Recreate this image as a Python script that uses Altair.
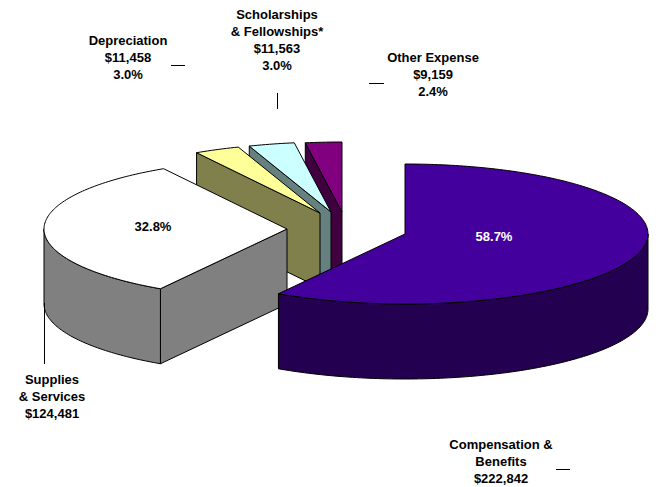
import numpy as np
import pandas as pd
import altair as alt

# Slice values (dollars), in clockwise order from 12 o'clock
names = ["Compensation", "Supplies", "Depreciation", "Scholarships", "Other"]
values = [222842, 124481, 11458, 11563, 9159]

# Exploded apex of each slice, in the picture's pixels
apex_x = [405, 287, 320, 331, 342]
apex_y = [234, 229, 213, 212, 212]

top_colors = ["#44009C", "#FFFFFF", "#FFFF99", "#CCFFFF", "#800080"]
side_colors = ["#240050", "#808080", "#80804D", "#668080", "#400040"]

RX, RY, DEPTH = 243, 70, 75
W, H = 648, 478

label_text = [
    "Depreciation\n$11,458\n3.0%",
    "Scholarships\n& Fellowships*\n$11,563\n3.0%",
    "Other Expense\n$9,159\n2.4%",
    "Supplies\n& Services\n$124,481",
    "Compensation &\nBenefits\n$222,842",
]
label_x = [128, 277, 433, 52, 501]
label_y = [35, 9, 52, 374, 439]

pct_text = ["58.7%", "32.8%"]
pct_color = ["#FFFFFF", "#000000"]
pct_x = [494, 153]
pct_y = [237, 227]

lead_x = [171, 277.5, 369, 44.5, 556]
lead_x2 = [185, 277.5, 384, 44.5, 570]
lead_y = [65.5, 93, 83.5, 303, 469.5]
lead_y2 = [65.5, 109, 83.5, 364, 469.5]

# Build polygons from the values
total = sum(values)
starts = np.concatenate([[0], np.cumsum(values)[:-1]]) / total * 360
ends = np.cumsum(values) / total * 360


def arc(cx, cy, a, b):
    t = np.radians(np.linspace(a, b, max(2, int(abs(b - a)) + 2)))
    return list(zip(cx + RX * np.sin(t), cy - RY * np.cos(t)))


rows = []


def add(points, fill):
    pid = len(rows)
    pts = list(points) + [points[0]]
    rows.append(pd.DataFrame({
        "poly": pid,
        "seq": range(len(pts)),
        "x": [p[0] for p in pts],
        "y": [p[1] for p in pts],
    }))
    return fill


fills = []
for i in [4, 3, 2, 1, 0]:
    cx, cy, a, b = apex_x[i], apex_y[i], starts[i], ends[i]
    # cut face at the slice's first radius
    if i >= 1:
        p = arc(cx, cy, a, a)[0]
        fills.append(add([p, (cx, cy), (cx, cy + DEPTH), (p[0], p[1] + DEPTH)], side_colors[i]))
    if i == 1:
        # outer wall of the supplies slice
        w = arc(cx, cy, a, 270)
        fills.append(add(w + [(x, y + DEPTH) for x, y in reversed(w)], side_colors[i]))
    if i == 0:
        w = arc(cx, cy, 90, b)
        fills.append(add(w + [(x, y + DEPTH) for x, y in reversed(w)], side_colors[i]))
    fills.append(add([(cx, cy)] + arc(cx, cy, a, b), top_colors[i]))

poly = pd.concat(rows, ignore_index=True)
poly["color"] = poly["poly"].map(dict(enumerate(fills)))

xs = alt.Scale(domain=[8, 8 + W], range=[0, W], nice=False, zero=False)
ys = alt.Scale(domain=[8, 8 + H], range=[0, H], nice=False, zero=False)
X = lambda f: alt.X(f, type="quantitative", scale=xs, axis=None)
Y = lambda f: alt.Y(f, type="quantitative", scale=ys, axis=None)

shapes = alt.Chart(poly).mark_line(stroke="#000000", strokeWidth=1, strokeJoin="round").encode(
    x=X("x"), y=Y("y"),
    order="seq:Q",
    detail="poly:N",
    fill=alt.Fill("color:N", scale=None),
)

leads = alt.Chart(pd.DataFrame({"x": lead_x, "x2": lead_x2, "y": lead_y, "y2": lead_y2})).mark_rule(
    color="#000000", strokeWidth=1
).encode(x=X("x"), x2="x2", y=Y("y"), y2="y2")

labels = alt.Chart(pd.DataFrame({"t": label_text, "x": label_x, "y": label_y})).mark_text(
    font="Liberation Sans", fontWeight="bold", fontSize=13, lineBreak="\n", lineHeight=17,
    baseline="top", align="center", color="#000000"
).encode(x=X("x"), y=Y("y"), text="t:N")

pcts = alt.Chart(pd.DataFrame({"t": pct_text, "x": pct_x, "y": pct_y, "c": pct_color})).mark_text(
    font="Liberation Sans", fontWeight="bold", fontSize=13, baseline="middle", align="center"
).encode(x=X("x"), y=Y("y"), text="t:N", color=alt.Color("c:N", scale=None))

chart = alt.layer(shapes, leads, labels, pcts).properties(
    width=W, height=H, padding=0, background="#FFFFFF",
    autosize=alt.AutoSizeParams(type="none"),
).configure_view(stroke=None)

chart.save("out.html", embed_options={"renderer": "svg", "actions": False})
